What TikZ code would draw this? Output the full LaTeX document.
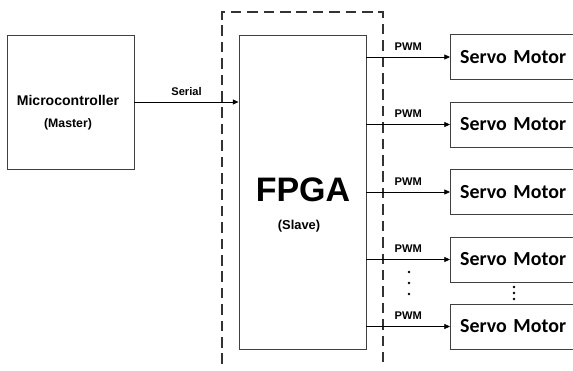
\documentclass[tikz,border=0pt]{standalone}
\usepackage{fontspec}
\setmainfont{Liberation Sans}
\newfontfamily\servofont{Carlito}
\usetikzlibrary{arrows.meta}

\begin{document}
\begin{tikzpicture}[x=0.03cm, y=-0.03cm, >={Triangle[length=1.7mm,width=1.5mm]},
	blockbox/.style={draw=black!75, line width=0.8pt, fill=white, inner sep=0pt},
	servobox/.style={blockbox, minimum width=4.2cm, minimum height=1.35cm, anchor=west, font=\servofont\bfseries\fontsize{17}{19}\selectfont, text width=3.9cm, align=left},
	sig/.style={->, line width=0.6pt},
	siglabel/.style={font=\bfseries\fontsize{9.5}{11}\selectfont, above=2pt}]
	\useasboundingbox (0,0) rectangle (573,370);
	\clip (0,0) rectangle (573,370);
	% slave boundary
	\draw[black!80, line width=1.6pt, dash pattern=on 9pt off 5pt] (222,364) -- (222,12) -- (383,12) -- (383,364);
	% master and slave
	\node[blockbox, minimum width=3.81cm, minimum height=4.02cm] (mcu) at (70.5,102) {};
	\node[font=\bfseries\fontsize{12}{14}\selectfont] (mcutxt) at (68,100) {Microcontroller};
	\node[font=\bfseries\fontsize{10.5}{12}\selectfont] (master) at (68,124) {(Master)};
	\node[blockbox, minimum width=3.81cm, minimum height=9.42cm] (fpga) at (302.5,192) {};
	\node[font=\bfseries\fontsize{29}{32}\selectfont] (fpgatxt) at (303,190) {FPGA};
	\node[font=\bfseries\fontsize{11}{13}\selectfont] (slave) at (299,226) {(Slave)};
	% servos
	\node[servobox] (s1) at (450,57) {\hspace{4pt}Servo Motor};
	\node[servobox] (s2) at (450,124.5) {\hspace{4pt}Servo Motor};
	\node[servobox] (s3) at (450,192) {\hspace{4pt}Servo Motor};
	\node[servobox] (s4) at (450,259.5) {\hspace{4pt}Servo Motor};
	\node[servobox] (s5) at (450,326.5) {\hspace{4pt}Servo Motor};
	% links
	\draw[sig] (mcu.east |- 0,102) -- (fpga.west |- 0,102) node[siglabel, midway] {Serial};
	\foreach \s in {s1,s2,s3,s4,s5}
		\draw[sig] (fpga.east |- \s.west) -- (\s.west) node[siglabel, midway] {PWM};
	% dots
	\foreach \y in {272,283,294}
		\fill (409,\y) circle (1.1pt);
	\foreach \y in {287,293,299}
		\fill (514,\y) circle (1.1pt);
\end{tikzpicture}
\end{document}
